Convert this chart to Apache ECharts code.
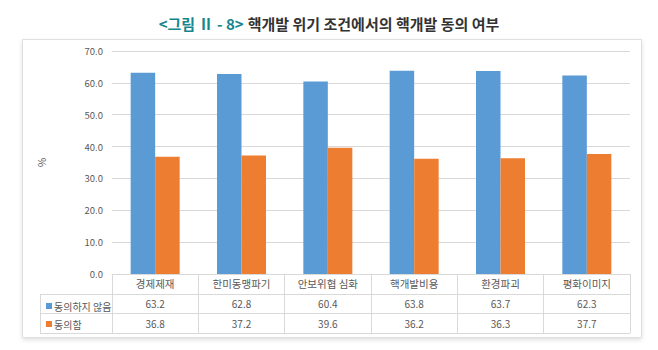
<!DOCTYPE html>
<html><head><meta charset="utf-8">
<script src="https://cdn.jsdelivr.net/npm/echarts@6/dist/echarts.min.js"></script>
<style>html,body{margin:0;padding:0;background:#fff}#c{width:658px;height:350px}</style>
</head><body><div id="c"></div>
<script>
const titlePrefix = '<그림 Ⅱ - 8>';
const titleText = '핵개발 위기 조건에서의 핵개발 동의 여부';
const categories = ['경제제재', '한미동맹파기', '안보위협 심화', '핵개발비용', '환경파괴', '평화이미지'];
const seriesNames = ['동의하지 않음', '동의함'];
const disagree = [63.2, 62.8, 60.4, 63.8, 63.7, 62.3];
const agree = [36.8, 37.2, 39.6, 36.2, 36.3, 37.7];
const yTicks = [0, 10, 20, 30, 40, 50, 60, 70];
const yName = '%';

const FONT = '"Noto Sans CJK KR", "Noto Sans", sans-serif';
const ROW = 19.7;
const LINE = '#d9d9d9';
const TXT = '#595959';

const chart = echarts.init(document.getElementById('c'), null, {renderer: 'svg'});
const option = {
  backgroundColor: '#fff',
  animation: false,
  textStyle: {fontFamily: FONT},
  title: {
    left: 'center', top: 9,
    text: '{a|' + titlePrefix + '} {b|' + titleText + '}',
    textStyle: {
      rich: {
        a: {fontSize: 15, fontWeight: 'bold', color: '#17868c', fontFamily: FONT},
        b: {fontSize: 15, fontWeight: 'bold', color: '#333333', fontFamily: FONT}
      }
    }
  },
  legend: {
    orient: 'vertical', left: 41, top: 296,
    itemWidth: 6, itemHeight: 6, itemGap: 8,
    icon: 'rect',
    textStyle: {fontSize: 10, color: TXT, fontFamily: FONT, padding: [0, 0, 0, -3]},
    selectedMode: false,
    data: seriesNames
  },
  grid: {left: 112, right: 28, top: 51, bottom: 76},
  xAxis: {
    type: 'category',
    data: categories,
    axisLine: {show: true, lineStyle: {color: LINE}},
    axisTick: {show: true, interval: 0, length: ROW * 3, lineStyle: {color: LINE}},
    axisLabel: {
      interval: 0, margin: 0,
      formatter: function (v, i) {
        return '{c|' + v + '}\n{v|' + disagree[i].toFixed(1) + '}\n{v|' + agree[i].toFixed(1) + '}';
      },
      rich: {
        c: {fontSize: 10.5, color: TXT, lineHeight: ROW, fontFamily: FONT},
        v: {fontSize: 10, color: TXT, lineHeight: ROW, fontFamily: FONT}
      }
    }
  },
  yAxis: {
    type: 'value', min: 0, max: 70, interval: 10,
    name: yName, nameLocation: 'middle', nameRotate: 90, nameGap: 66,
    nameTextStyle: {fontSize: 10, color: TXT, fontFamily: FONT},
    axisLine: {show: false}, axisTick: {show: false},
    axisLabel: {fontSize: 9.5, color: TXT, margin: 9, formatter: v => yTicks.includes(v) ? v.toFixed(1) : ''},
    splitLine: {lineStyle: {color: LINE}}
  },
  series: [
    {name: seriesNames[0], type: 'bar', data: disagree, barWidth: 24.5, barGap: '0%', itemStyle: {color: '#5b9bd5'}},
    {name: seriesNames[1], type: 'bar', data: agree, barWidth: 24.5, itemStyle: {color: '#ed7d31'}}
  ]
};
chart.setOption(option);

// table / frame decoration from the axis geometry
const y0 = chart.convertToPixel({yAxisIndex: 0}, 0);
const c0 = chart.convertToPixel({xAxisIndex: 0}, categories[0]);
const c1 = chart.convertToPixel({xAxisIndex: 0}, categories[1]);
const band = c1 - c0;
const xRight = chart.convertToPixel({xAxisIndex: 0}, categories[categories.length - 1]) + band / 2;
const legendLeft = 40;
const els = [];
for (let r = 1; r <= 3; r++) {
  const yy = Math.round(y0 + ROW * r) + 0.5;
  els.push({type: 'line', shape: {x1: legendLeft, y1: yy, x2: xRight, y2: yy}, style: {stroke: LINE, lineWidth: 1}, silent: true});
}
els.push({type: 'line', shape: {x1: legendLeft + 0.5, y1: Math.round(y0 + ROW) + 0.5, x2: legendLeft + 0.5, y2: Math.round(y0 + ROW * 3) + 0.5}, style: {stroke: LINE, lineWidth: 1}, silent: true});
// outer frame
els.push({type: 'rect', z: -10, shape: {x: 22.5, y: 39.5, width: 619, height: 298}, style: {fill: '#fff', stroke: '#e0e0e0', lineWidth: 1, shadowBlur: 4, shadowColor: 'rgba(0,0,0,0.12)', shadowOffsetY: 2}, silent: true});
chart.setOption({graphic: {elements: els}});
</script>
</body></html>
